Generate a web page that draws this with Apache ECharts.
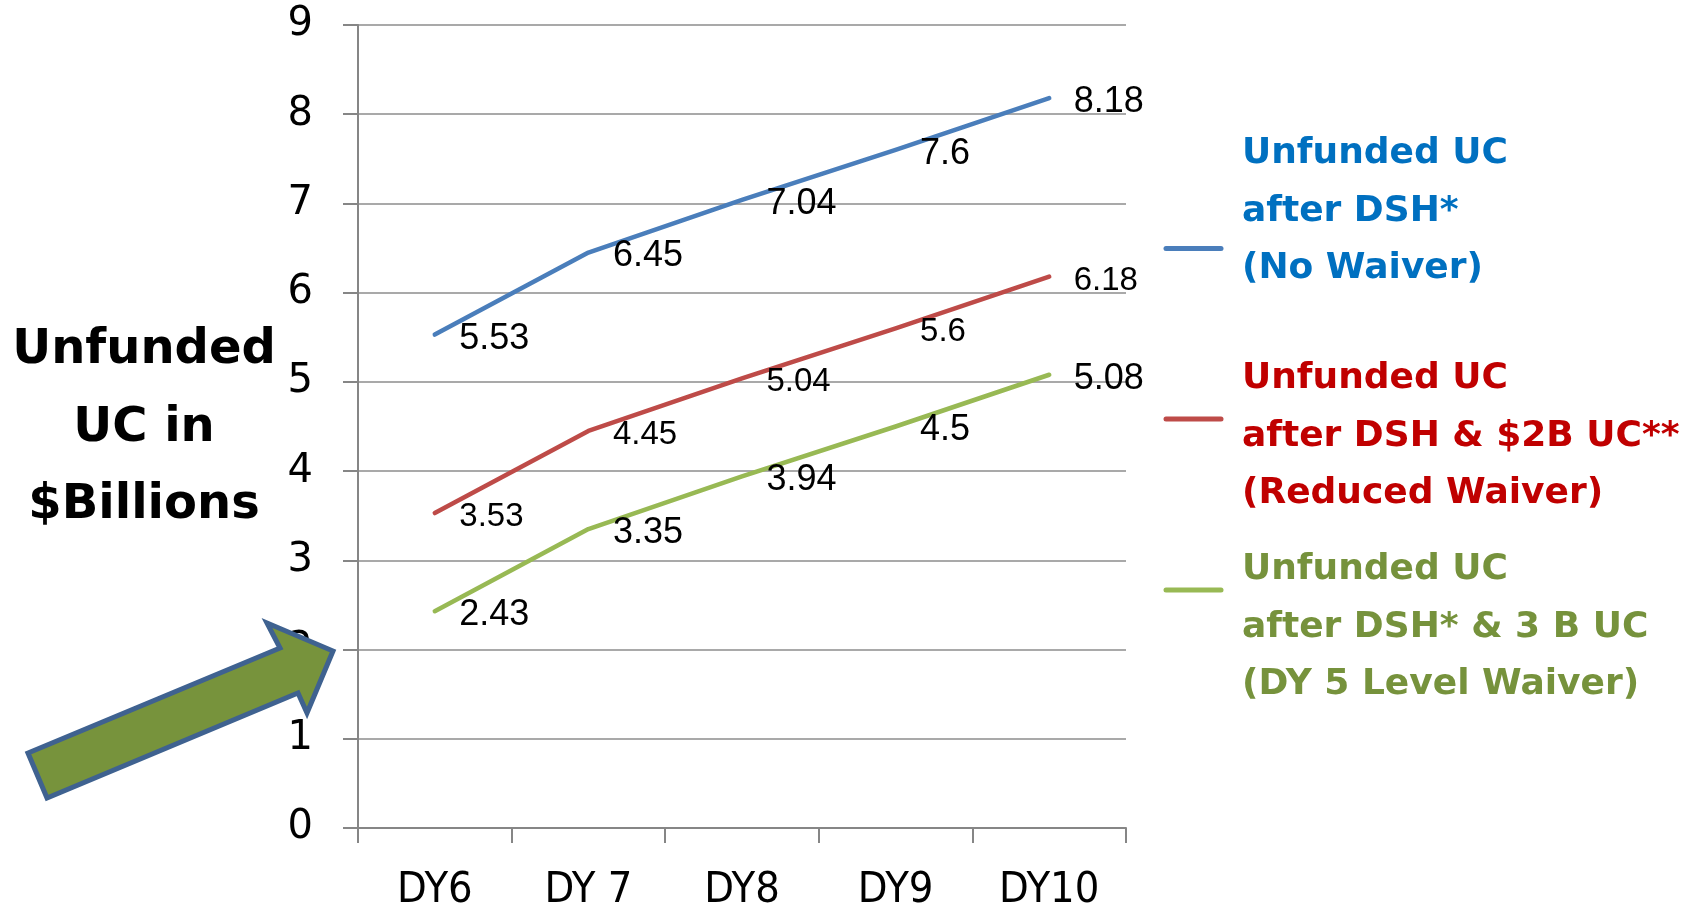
<!DOCTYPE html>
<html>
<head>
<meta charset="utf-8">
<script src="https://cdn.jsdelivr.net/npm/echarts@6/dist/echarts.min.js"></script>
<style>
html,body{margin:0;padding:0;background:#fff;}
#c{width:1694px;height:907px;}
</style>
</head>
<body>
<div id="c"></div>
<script>
const categories = ['DY6', 'DY 7', 'DY8', 'DY9', 'DY10'];
const seriesNames = ['Unfunded UC after DSH* (No Waiver)', 'Unfunded UC after DSH & $2B UC** (Reduced Waiver)', 'Unfunded UC after DSH* & 3 B UC (DY 5 Level Waiver)'];
const noWaiver = [5.53, 6.45, 7.04, 7.6, 8.18];
const reducedWaiver = [3.53, 4.45, 5.04, 5.6, 6.18];
const dy5Waiver = [2.43, 3.35, 3.94, 4.5, 5.08];
const yTicks = [0, 1, 2, 3, 4, 5, 6, 7, 8, 9];
const legendTexts = ['Unfunded UC\nafter DSH*\n(No Waiver)', 'Unfunded UC\nafter DSH & $2B UC**\n(Reduced Waiver)', 'Unfunded UC\nafter DSH* & 3 B UC\n(DY 5 Level Waiver)'];
const yTitle = 'Unfunded\nUC in\n$Billions';

const lineColors = ['#4A7EBB', '#BE4B48', '#98B954'];
const textColors = ['#0070C0', '#C00000', '#76923C'];
const labelSizes = [36, 33, 36];

const chart = echarts.init(document.getElementById('c'));

function mkSeries(i, data) {
  return {
    name: seriesNames[i],
    type: 'line',
    data: data,
    symbol: 'circle',
    symbolSize: 1,
    itemStyle: { color: 'rgba(0,0,0,0)' },
    lineStyle: { color: lineColors[i], width: 4.5, cap: 'round', join: 'round' },
    label: {
      show: true,
      position: 'right',
      distance: 24,
      offset: [0, 4],
      color: '#000',
      fontFamily: 'Liberation Sans, Arial, sans-serif',
      fontSize: labelSizes[i]
    },
    emphasis: { disabled: true },
    animation: false,
    z: 3
  };
}

const legendGraphics = [];
const legendTop = [125, 350, 541];
const legendLineY = [248.5, 419, 590];
for (let i = 0; i < 3; i++) {
  legendGraphics.push({
    type: 'line',
    shape: { x1: 1166, y1: legendLineY[i], x2: 1221, y2: legendLineY[i] },
    style: { stroke: lineColors[i], lineWidth: 5, lineCap: 'round' },
    z: 10
  });
  legendGraphics.push({
    type: 'text',
    left: 1242,
    top: legendTop[i],
    style: {
      text: legendTexts[i],
      fill: textColors[i],
      font: 'bold 36px "DejaVu Sans", sans-serif',
      lineHeight: 57.5
    },
    z: 10
  });
}

const option = {
  backgroundColor: '#fff',
  animation: false,
  grid: { left: 358, right: 568, top: 25, bottom: 79, containLabel: false, outerBoundsMode: 'none' },
  xAxis: {
    type: 'category',
    data: categories,
    boundaryGap: true,
    axisLine: { show: true, lineStyle: { color: '#868686', width: 2 } },
    axisTick: { show: true, length: 15, lineStyle: { color: '#868686', width: 2 } },
    axisLabel: {
      color: '#000',
      fontFamily: '"Liberation Sans Narrow", "DejaVu Sans Condensed", sans-serif',
      fontSize: 43,
      lineHeight: 43,
      margin: 41
    },
    splitLine: { show: false }
  },
  yAxis: {
    type: 'value',
    min: yTicks[0],
    max: yTicks[yTicks.length - 1],
    interval: 1,
    axisLine: { show: true, lineStyle: { color: '#868686', width: 2 } },
    axisTick: { show: true, length: 15, lineStyle: { color: '#868686', width: 2 } },
    axisLabel: {
      color: '#000',
      fontFamily: '"DejaVu Sans", sans-serif',
      fontSize: 40,
      margin: 45,
      padding: [6, 0, 0, 0]
    },
    splitLine: { show: true, lineStyle: { color: '#8C8C8C', width: 1.5 } }
  },
  legend: { show: false },
  series: [mkSeries(0, noWaiver), mkSeries(1, reducedWaiver), mkSeries(2, dy5Waiver)],
  graphic: [
    {
      type: 'text',
      style: {
        x: 144,
        y: 312,
        text: yTitle,
        fill: '#000',
        font: 'bold 48px "DejaVu Sans", sans-serif',
        lineHeight: 77.5,
        align: 'center',
        verticalAlign: 'top'
      },
      z: 10
    },
    {
      type: 'polygon',
      shape: { points: [[28, 753], [280, 648], [267, 623], [333, 651], [307, 713], [298, 693], [47, 798]] },
      style: { fill: '#77933C', stroke: '#3F6290', lineWidth: 5, lineJoin: 'miter' },
      z: 20
    }
  ].concat(legendGraphics)
};
chart.setOption(option);
</script>
</body>
</html>
